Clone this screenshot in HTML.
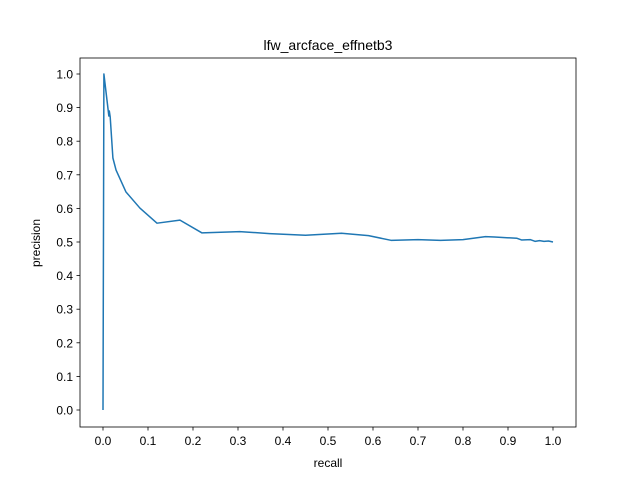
<!DOCTYPE html>
<html><head><meta charset="utf-8"><style>
body{margin:0;background:#fff;}
svg{display:block;font-family:"Liberation Sans",sans-serif;}
</style></head><body>
<svg id="chart" width="640" height="480">
<rect width="640" height="480" fill="#fff"/>
<text x="328" y="50" text-anchor="middle" font-size="14">lfw_arcface_effnetb3</text>
<g id="grid"></g>
<path id="line" fill="none" stroke="#1f77b4" stroke-width="1.5" stroke-linejoin="round"/>
<rect x="80" y="58" width="496" height="369" fill="none" stroke="#000" stroke-width="0.8"/>
<text x="328" y="467" text-anchor="middle" font-size="12">recall</text>
<text x="0" y="0" transform="translate(40,243) rotate(-90)" text-anchor="middle" font-size="12">precision</text>
</svg>
<script>
const recall=[0,0.002,0.013,0.014,0.016,0.022,0.029,0.051,0.082,0.12,0.171,0.22,0.304,0.37,0.45,0.53,0.59,0.64,0.7,0.75,0.8,0.85,0.87,0.92,0.93,0.95,0.96,0.97,0.98,0.99,1.0];
const precision=[0,1.0,0.875,0.89,0.872,0.75,0.714,0.649,0.601,0.556,0.565,0.527,0.531,0.525,0.52,0.526,0.519,0.505,0.507,0.505,0.507,0.516,0.515,0.511,0.506,0.507,0.502,0.504,0.502,0.503,0.5];
const xTicks=[0,0.1,0.2,0.3,0.4,0.5,0.6,0.7,0.8,0.9,1.0];
const yTicks=[0,0.1,0.2,0.3,0.4,0.5,0.6,0.7,0.8,0.9,1.0];
const sx=v=>103+v*450, sy=v=>410-v*336;
const NS="http://www.w3.org/2000/svg", g=document.getElementById('grid');
xTicks.forEach(t=>{
 const l=document.createElementNS(NS,'line');l.setAttribute('x1',sx(t));l.setAttribute('x2',sx(t));l.setAttribute('y1',427);l.setAttribute('y2',430.5);l.setAttribute('stroke','#000');l.setAttribute('stroke-width','0.8');
 
 
 g.appendChild(l);
 const tx=document.createElementNS(NS,'text');tx.setAttribute('x',sx(t));tx.setAttribute('y',445);tx.setAttribute('text-anchor','middle');tx.setAttribute('font-size','12');tx.textContent=t.toFixed(1);
 
 
 g.appendChild(tx);
});
yTicks.forEach(t=>{
 const l=document.createElementNS(NS,'line');l.setAttribute('x1',76.5);l.setAttribute('x2',80);l.setAttribute('y1',sy(t));l.setAttribute('y2',sy(t));l.setAttribute('stroke','#000');l.setAttribute('stroke-width','0.8');
 
 
 g.appendChild(l);
 const tx=document.createElementNS(NS,'text');tx.setAttribute('x',73);tx.setAttribute('y',sy(t)+4.5);tx.setAttribute('text-anchor','end');tx.setAttribute('font-size','12');tx.textContent=t.toFixed(1);
 
 
 g.appendChild(tx);
});
document.getElementById('line').setAttribute('d',recall.map((r,i)=>(i?'L':'M')+sx(r)+','+sy(precision[i])).join(''));
</script>
</body></html>
